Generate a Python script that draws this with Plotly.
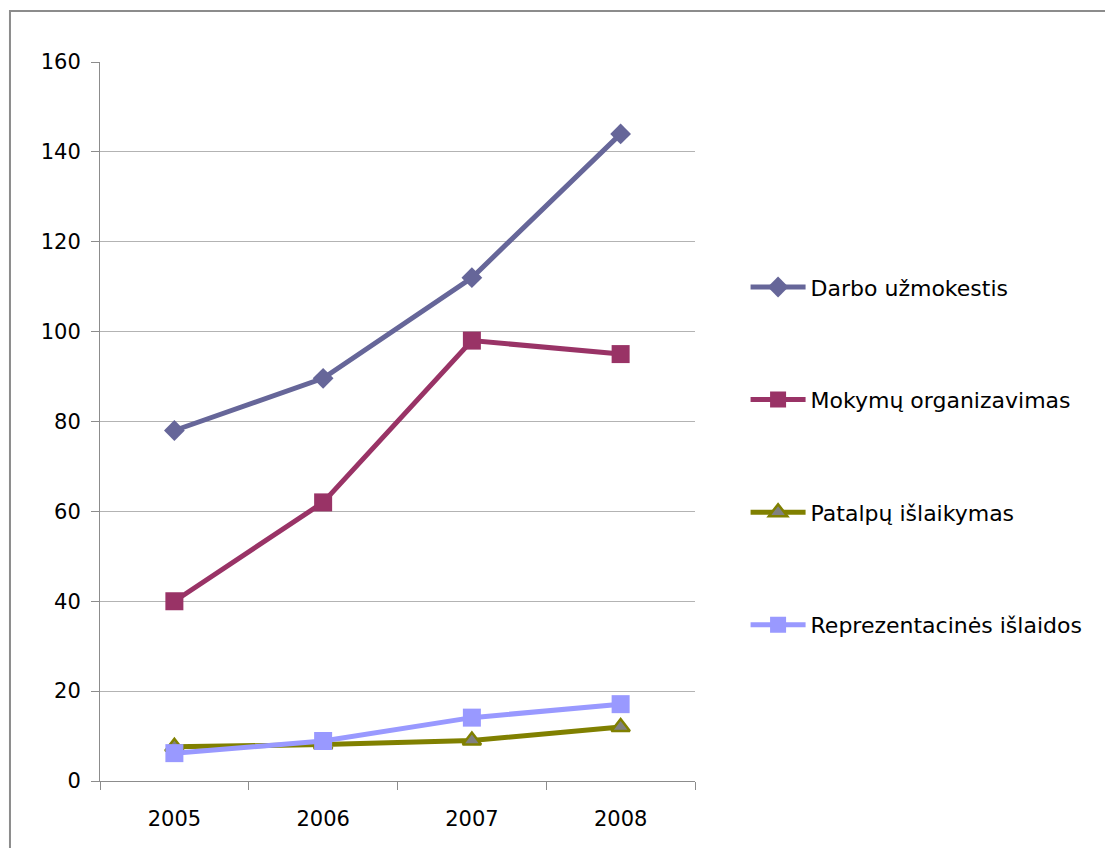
import plotly.graph_objects as go

# Years on the category axis
years = ["2005", "2006", "2007", "2008"]

# Series values
darbo = [78, 89.6, 112, 144]
mokymu = [40, 62, 98, 95]
patalpu = [7.6, 8.1, 9, 12]
reprez = [6.2, 8.9, 14.1, 17.1]

y_ticks = [0, 20, 40, 60, 80, 100, 120, 140, 160]

FONT = "DejaVu Sans"

fig = go.Figure()

fig.add_trace(go.Scatter(
    x=years, y=darbo, name="Darbo užmokestis", mode="lines+markers",
    line=dict(color="#666699", width=5),
    marker=dict(symbol="diamond", size=16, color="#666699"),
    legendgroup="a",
))
fig.add_trace(go.Scatter(
    x=years, y=mokymu, name="Mokymų organizavimas", mode="lines+markers",
    line=dict(color="#993366", width=5),
    marker=dict(symbol="square", size=18, color="#993366"),
    legendgroup="b",
))
fig.add_trace(go.Scatter(
    x=years, y=patalpu, name="Patalpų išlaikymas", mode="lines+markers",
    line=dict(color="#808000", width=5),
    marker=dict(symbol="triangle-up", size=16, color="#808080",
                line=dict(color="#808000", width=2.5)),
    legendgroup="c",
))
fig.add_trace(go.Scatter(
    x=years, y=reprez, name="Reprezentacinės išlaidos", mode="lines+markers",
    line=dict(color="#9999FF", width=5),
    marker=dict(symbol="square", size=18, color="#9999FF"),
    legendgroup="d",
))

# Outer chart border (runs off the right and bottom of the page)
fig.add_shape(type="rect", xref="paper", yref="paper",
              x0=-0.1513, x1=2.0, y0=-0.5, y1=1.0709,
              line=dict(color="#8c8c8c", width=2), layer="below")

fig.update_layout(
    width=1105, height=848,
    margin=dict(l=100, r=410, t=62, b=67),
    paper_bgcolor="white", plot_bgcolor="white",
    font=dict(family=FONT, size=21, color="black"),
    showlegend=True,
    legend=dict(
        x=1.085, xanchor="left", y=0.716, yanchor="top",
        font=dict(family=FONT, size=22, color="black"),
        tracegroupgap=81, itemwidth=55,
        bgcolor="rgba(0,0,0,0)",
    ),
    xaxis=dict(
        type="category", range=[-0.5, 3.5],
        tickson="boundaries", ticks="outside", ticklen=8,
        tickcolor="#8c8c8c", tickwidth=1,
        showline=True, linecolor="#8c8c8c", linewidth=1,
        showgrid=False, zeroline=False,
        ticklabelstandoff=19,
        tickfont=dict(family=FONT, size=21, color="black"),
    ),
    yaxis=dict(
        range=[0, 160], tickvals=y_ticks,
        ticks="outside", ticklen=8, tickcolor="#8c8c8c", tickwidth=1,
        showline=True, linecolor="#8c8c8c", linewidth=1,
        showgrid=True, gridcolor="#b3b3b3", gridwidth=1,
        zeroline=False,
        ticklabelstandoff=6,
        tickfont=dict(family=FONT, size=21, color="black"),
    ),
)

fig.write_html("out.html")
